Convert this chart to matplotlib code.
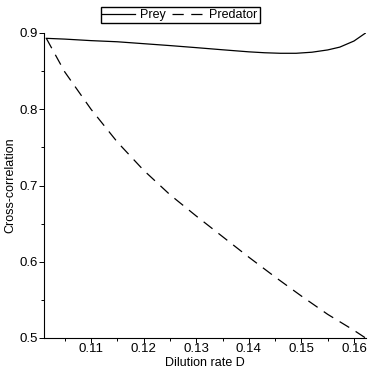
import numpy as np
import matplotlib
matplotlib.use('Agg')
import matplotlib.pyplot as plt
from matplotlib.ticker import MultipleLocator

plt.rcParams['font.family'] = ['Liberation Sans', 'DejaVu Sans']

# dilution rate D
d_prey = [0.1015, 0.105, 0.110, 0.115, 0.120, 0.125, 0.130, 0.135, 0.140,
          0.143, 0.146, 0.149, 0.152, 0.155, 0.1573, 0.160, 0.1622]
prey = [0.893, 0.892, 0.890, 0.8885, 0.886, 0.8835, 0.8808, 0.878, 0.8753,
        0.8741, 0.8734, 0.8734, 0.8748, 0.8778, 0.8815, 0.8895, 0.900]

d_pred = [0.1015, 0.105, 0.110, 0.115, 0.120, 0.125, 0.130, 0.135, 0.140,
          0.145, 0.150, 0.155, 0.160, 0.1622]
pred = [0.893, 0.849, 0.800, 0.757, 0.720, 0.688, 0.660, 0.633, 0.606,
        0.580, 0.555, 0.531, 0.510, 0.500]

fig = plt.figure(figsize=(3.74, 3.74), dpi=100)
ax = fig.add_axes([44/374, 36/374, 322/374, 305/374])

l1, = ax.plot(d_prey, prey, color='black', lw=0.9, label='Prey')
l2, = ax.plot(d_pred, pred, color='black', lw=0.9, dashes=(9, 6), label='Predator')

ax.set_xlim(0.10106, 0.16228)
ax.set_ylim(0.5, 0.9)
ax.xaxis.set_minor_locator(MultipleLocator(0.005))
ax.yaxis.set_minor_locator(MultipleLocator(0.05))
ax.set_xticks([0.11, 0.12, 0.13, 0.14, 0.15, 0.16])
ax.set_xticklabels(['0.11', '0.12', '0.13', '0.14', '0.15', '0.16'])
ax.set_yticks([0.5, 0.6, 0.7, 0.8, 0.9])
ax.set_yticklabels(['0.5', '0.6', '0.7', '0.8', '0.9'])

for s in ['top', 'right']:
    ax.spines[s].set_visible(False)
for s in ['left', 'bottom']:
    ax.spines[s].set_linewidth(0.8)
ax.tick_params(which='major', length=3.5, width=0.7, labelsize=9.5)
ax.tick_params(axis='x', which='major', pad=0)
ax.tick_params(axis='y', which='major', pad=1)
ax.tick_params(which='minor', length=2.5, width=0.7)

ax.set_xlabel('Dilution rate D', fontsize=9, labelpad=1.5)
ax.set_ylabel('Cross-correlation', fontsize=9, labelpad=2)

fig.legend(handles=[l1, l2], loc='center', bbox_to_anchor=(180/374, 1 - 15/374),
           ncol=2, fontsize=9, frameon=True, fancybox=False, edgecolor='black',
           framealpha=1, borderpad=0.15, handlelength=2.6, handletextpad=0.4,
           columnspacing=0.5, borderaxespad=0)

fig.savefig('out.png', dpi=100)
